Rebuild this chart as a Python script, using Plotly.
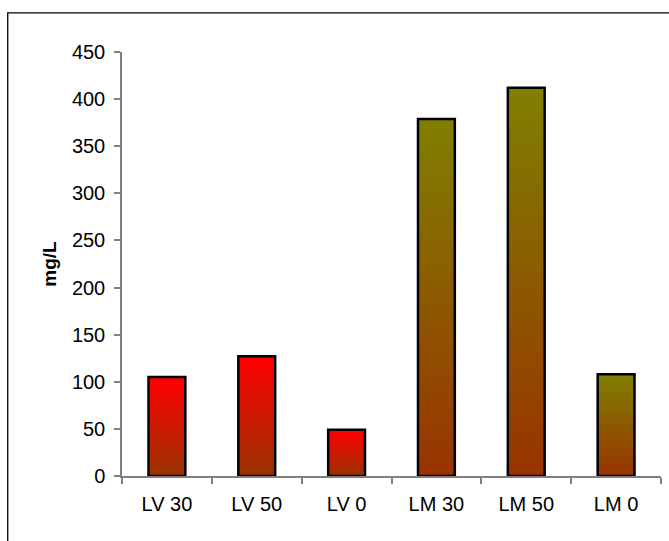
import plotly.graph_objects as go

categories = ["LV 30", "LV 50", "LV 0", "LM 30", "LM 50", "LM 0"]
values = [105, 127, 49, 379, 412, 108]
top_colors = ["#FF0000", "#FF0000", "#FF0000", "#808000", "#808000", "#808000"]
bottom_color = "#993300"
y_ticks = [0, 50, 100, 150, 200, 250, 300, 350, 400, 450]

BAR_W = 0.41
FONT = "Liberation Sans, Arial, sans-serif"

fig = go.Figure()
for i, (cat, v, tc) in enumerate(zip(categories, values, top_colors)):
    x0, x1 = i - BAR_W / 2, i + BAR_W / 2
    fig.add_trace(go.Scatter(
        x=[x0, x0, x1, x1, x0],
        y=[0, v, v, 0, 0],
        mode="lines",
        fill="toself",
        fillgradient=dict(type="vertical", colorscale=[[0, bottom_color], [1, tc]]),
        line=dict(color="black", width=2.5),
        name=cat,
        showlegend=False,
        hoverinfo="skip",
    ))

fig.update_layout(
    width=669, height=541,
    margin=dict(l=122, r=8, t=52, b=65),
    paper_bgcolor="white", plot_bgcolor="white",
    font=dict(family=FONT, size=20, color="black"),
    xaxis=dict(
        range=[-0.5, 5.5],
        tickmode="array",
        tickvals=list(range(len(categories))),
        ticktext=categories,
        ticks="",
        showgrid=False, zeroline=False,
        showline=True, linecolor="#808080", linewidth=1.5,
        ticklabelstandoff=9,
        minor=dict(ticks="outside", tick0=-0.5, dtick=1, ticklen=6,
                   tickcolor="#808080", tickwidth=1.5, showgrid=False),
    ),
    yaxis=dict(
        range=[0, 450],
        tickmode="array", tickvals=y_ticks,
        ticks="outside", ticklen=6, tickcolor="#808080", tickwidth=1.5,
        ticklabelstandoff=5,
        showgrid=False, zeroline=False,
        showline=True, linecolor="#808080", linewidth=1.5,
        title=dict(text="<b>mg/L</b>", font=dict(size=19), standoff=10),
    ),
    shapes=[dict(type="rect", xref="paper", yref="paper",
                 x0=-0.212, x1=1.2, y0=-0.3, y1=1.0925,
                 line=dict(color="black", width=1.3), layer="above")],
)

fig.write_html("out.html", config={"displayModeBar": False},
               post_script="document.body.style.margin='0';")
